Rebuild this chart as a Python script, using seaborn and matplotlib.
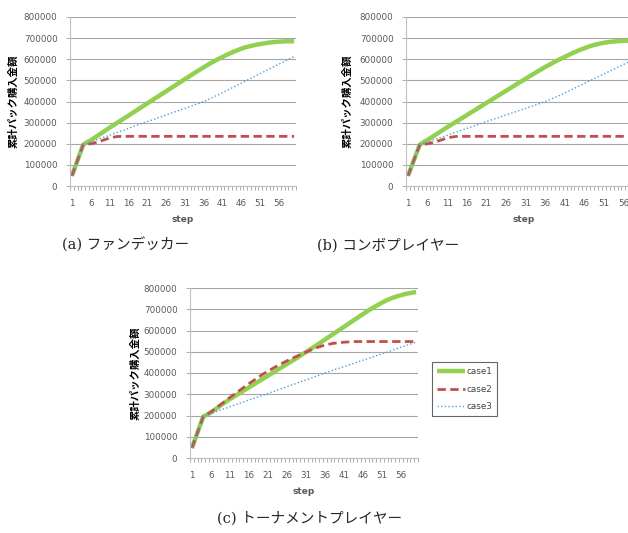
import matplotlib
matplotlib.use("Agg")
import matplotlib.pyplot as plt
from matplotlib.ticker import FixedLocator
import seaborn as sns
import pandas as pd

sns.set_style("white")
plt.rcParams['font.family'] = ['DejaVu Sans', 'Noto Sans CJK JP']

steps = list(range(1, 61))

# values in thousands, read per step
fan_case1 = [48, 97, 146, 195, 207, 216, 228, 240, 252, 264, 276, 287, 299, 310, 322,
             333, 345, 356, 368, 379, 391, 402, 414, 425, 437, 448, 460, 471, 483, 494,
             506, 517, 529, 540, 551, 562, 573, 583, 593, 602, 611, 620, 628, 636, 643,
             650, 656, 661, 665, 669, 672, 675, 678, 680, 682, 683, 684, 685, 685, 686]
fan_case2 = [48, 97, 146, 195, 197, 200, 204, 209, 215, 221, 227, 231, 234, 235, 235,
             235, 235, 235, 235, 235, 235, 235, 235, 235, 235, 235, 235, 235, 235, 235,
             235, 235, 235, 235, 235, 235, 235, 235, 235, 235, 235, 235, 235, 235, 235,
             235, 235, 235, 235, 235, 235, 235, 235, 235, 235, 235, 235, 235, 235, 235]
fan_case3 = [48, 97, 146, 195, 202, 208, 215, 221, 228, 234, 240, 247, 253, 260, 266,
             273, 279, 286, 292, 299, 305, 311, 317, 324, 330, 336, 342, 349, 355, 361,
             367, 374, 380, 387, 393, 400, 408, 416, 425, 433, 442, 451, 460, 469, 478,
             487, 496, 505, 514, 523, 532, 541, 550, 559, 568, 577, 586, 595, 604, 613]

combo_case1 = [48, 97, 146, 195, 208, 218, 230, 242, 254, 266, 278, 289, 301, 312, 324,
               335, 347, 358, 370, 381, 393, 404, 416, 427, 439, 450, 462, 473, 485, 496,
               507, 519, 530, 541, 552, 563, 573, 583, 593, 602, 611, 620, 629, 637, 645,
               652, 659, 665, 670, 674, 678, 681, 683, 685, 686, 687, 688, 688, 689, 689]
combo_case2 = [48, 97, 146, 195, 197, 200, 204, 209, 215, 221, 227, 231, 234, 235, 235,
               235, 235, 235, 235, 235, 235, 235, 235, 235, 235, 235, 235, 235, 235, 235,
               235, 235, 235, 235, 235, 235, 235, 235, 235, 235, 235, 235, 235, 235, 235,
               235, 235, 235, 235, 235, 235, 235, 235, 235, 235, 235, 235, 235, 235, 235]
combo_case3 = [48, 97, 146, 195, 202, 208, 215, 221, 228, 234, 240, 247, 253, 259, 266,
               272, 279, 285, 292, 298, 304, 311, 317, 323, 330, 336, 342, 348, 355, 361,
               367, 374, 380, 386, 393, 399, 407, 415, 423, 431, 440, 449, 458, 467, 476,
               485, 494, 503, 512, 521, 530, 539, 548, 557, 566, 575, 584, 593, 600, 607]

tour_case1 = [47, 96, 146, 195, 204, 214, 227, 240, 253, 265, 277, 288, 299, 310, 321,
              332, 343, 354, 365, 376, 387, 398, 409, 420, 431, 442, 453, 464, 475, 487,
              498, 510, 521, 533, 545, 557, 569, 581, 593, 605, 617, 629, 641, 653, 665,
              677, 689, 700, 711, 721, 731, 740, 748, 755, 761, 766, 771, 775, 778, 781]
tour_case2 = [47, 96, 146, 195, 205, 217, 230, 244, 257, 271, 285, 298, 311, 324, 337,
              350, 362, 374, 386, 398, 409, 419, 429, 439, 448, 457, 466, 474, 482, 490,
              498, 506, 513, 520, 526, 531, 535, 539, 541, 543, 545, 546, 547, 548, 548,
              548, 548, 548, 548, 548, 548, 548, 548, 548, 548, 548, 548, 548, 548, 548]
tour_case3 = [47, 96, 146, 195, 202, 209, 216, 222, 229, 235, 241, 248, 254, 260, 266,
              273, 279, 285, 291, 297, 304, 310, 316, 323, 329, 335, 342, 348, 355, 361,
              367, 374, 380, 387, 393, 400, 406, 412, 418, 424, 430, 436, 442, 448, 454,
              460, 466, 472, 478, 484, 490, 496, 502, 509, 515, 521, 527, 533, 539, 545]

panels = [
    ("(a) ファンデッカー", [fan_case1, fan_case2, fan_case3]),
    ("(b) コンボプレイヤー", [combo_case1, combo_case2, combo_case3]),
    ("(c) トーナメントプレイヤー", [tour_case1, tour_case2, tour_case3]),
]
case_names = ["case1", "case2", "case3"]
colors = ["#92D050", "#C0504D", "#4A9FDF"]
widths = [3.2, 2.0, 1.0]
dash_patterns = [None, (3.0, 1.6), (1.0, 1.6)]

# axes boxes in pixel coords (left, top, right, bottom)
boxes = [(70, 17, 296, 186), (406, 17, 641, 186), (190, 288, 418, 458)]
ylabel_offset = [52, 54, 50]
caption_pos = [(126, 245), (388, 245), (310, 518)]

W, H = 628, 533
fig = plt.figure(figsize=(W / 100, H / 100), dpi=100)

grey = "#595959"
for i, ((caption, series), box) in enumerate(zip(panels, boxes)):
    l, t, r, b = box
    ax = fig.add_axes([l / W, 1 - b / H, (r - l) / W, (b - t) / H])
    for name, vals, c, lw, dp in zip(case_names, series, colors, widths, dash_patterns):
        sns.lineplot(x=steps, y=[v * 1000 for v in vals], ax=ax, color=c,
                     linewidth=lw, label=name, legend=False)
        line = ax.lines[-1]
        if dp is not None:
            line.set_dashes(dp)
        line.set_solid_capstyle("butt")
    ax.set_xlim(0.5, 60.5)
    ax.set_ylim(0, 800000)
    ax.set_yticks(range(0, 800001, 100000))
    ax.set_yticklabels([str(v) for v in range(0, 800001, 100000)])
    ax.set_xticks(steps[::5])
    ax.set_xticklabels([str(s) for s in steps[::5]])
    ax.xaxis.set_minor_locator(FixedLocator([s + 0.5 for s in range(0, 61)]))
    ax.tick_params(axis="x", which="major", length=0, pad=9, labelsize=6.3, colors=grey)
    ax.tick_params(axis="x", which="minor", length=3, width=0.6, color="#A0A0A0",
                   direction="out", bottom=True)
    ax.tick_params(axis="y", which="major", length=3, width=0.6, color="#A0A0A0",
                   direction="out", left=True, pad=6, labelsize=6.3, labelcolor=grey)
    ax.grid(axis="y", color="#A6A6A6", linewidth=0.8)
    ax.grid(axis="x", visible=False)
    for s in ["top", "right"]:
        ax.spines[s].set_visible(False)
    for s in ["left", "bottom"]:
        ax.spines[s].set_color("#BFBFBF")
        ax.spines[s].set_linewidth(0.8)
    ax.set_axisbelow(True)
    ax.set_xlabel("step", fontsize=6.5, fontweight="bold", color=grey, labelpad=2)
    ax.set_ylabel("累計パック購入金額", fontsize=7.5, fontweight="bold", color="black",
                  family=["Noto Sans CJK JP", "DejaVu Sans"])
    ax.yaxis.set_label_coords(-ylabel_offset[i] / (r - l), 0.5)
    ax.xaxis.set_label_coords(0.5, -29 / (b - t))
    cx, cy = caption_pos[i]
    fig.text(cx / W, 1 - cy / H, caption, ha="center", va="center", fontsize=10.5,
             family=["DejaVu Serif", "Noto Sans CJK JP"])
    if i == 2:
        handles, labels = ax.get_legend_handles_labels()
        leg = fig.legend(handles, labels, loc="upper left",
                         bbox_to_anchor=(432 / W, 1 - 362 / H), fontsize=6.3,
                         frameon=True, fancybox=False, handlelength=3.2,
                         handletextpad=0.15, labelspacing=1.0, borderpad=0.55,
                         borderaxespad=0)
        leg.get_frame().set_edgecolor("#404040")
        leg.get_frame().set_linewidth(0.8)
        for txt in leg.get_texts():
            txt.set_color("#404040")

fig.savefig("out.png", dpi=100, facecolor="white")
